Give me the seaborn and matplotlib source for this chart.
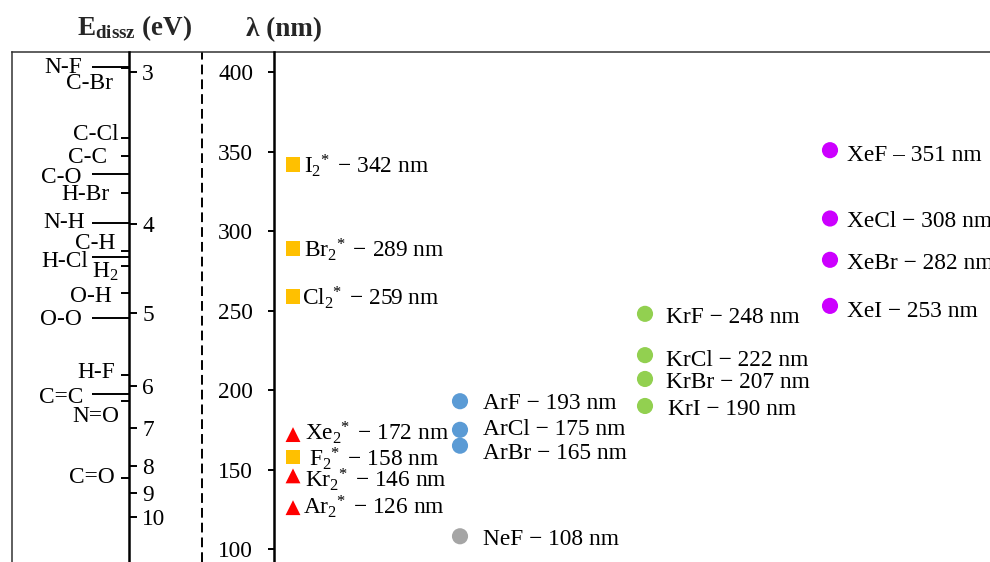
import numpy as np
import pandas as pd
import matplotlib
matplotlib.use("Agg")
import matplotlib.pyplot as plt
import seaborn as sns

# ---------------- data ----------------
species = [r"I$_2\!{}^*$", r"Br$_2\!{}^*$", r"Cl$_2\!{}^*$", r"F$_2\!{}^*$",
           r"Xe$_2\!{}^*$", r"Kr$_2\!{}^*$", r"Ar$_2\!{}^*$",
           "ArF", "ArCl", "ArBr", "NeF",
           "KrF", "KrCl", "KrBr", "KrI",
           "XeF", "XeCl", "XeBr", "XeI"]
wavelengths = [342, 289, 259, 158, 172, 146, 126,
               193, 175, 165, 108,
               248, 222, 207, 190,
               351, 308, 282, 253]
groups = ["halogen"] * 4 + ["rare gas dimer"] * 3 + ["Ar"] * 3 + ["Ne"] + ["Kr"] * 4 + ["Xe"] * 4
columns = [0] * 7 + [1] * 4 + [2] * 4 + [3] * 4
dashes = ["−"] * 15 + ["–", "−", "−", "−"]

energy_ticks = ["3", "4", "5", "6", "7", "8", "9", "10"]
energy_tick_nm = [400, 304.5, 248.5, 202.8, 176.3, 152.4, 135, 120.3]

bond_names = ["N-F", "C-Br", "C-Cl", "C-C", "C-O", "H-Br", "N-H", "C-H",
              "H-Cl", r"H$_2$", "O-H", "O-O", "H-F", "C=C", "N=O", "C=O"]
bond_nm = [403.5, 402.7, 358.8, 347.3, 336.0, 324.2, 305.3, 287.5,
           284.0, 278.3, 261.3, 245.6, 209.5, 197.5, 193.3, 144.9]

lambda_ticks = [100, 150, 200, 250, 300, 350, 400]

# ---------------- layout / style ----------------
W, H = 990, 562
PX = 0.72                      # points per pixel at dpi 100
YLIM = (91.8, 412.8)
FS = 16.8

bond_long = [True, False, False, False, True, False, True, False,
             True, False, False, True, False, True, False, False]
bond_label_right = [82, 113, 118, 107, 82, 110, 85, 115, 88, 118, 112, 82, 115, 83, 119, 115]
bond_label_dy = [1, 15, -3, 1, 3, 2, 0, -8, 5, 6, 4, 2, -2, 3, 16, 0]

col_x_px = [293, 460, 645, 830]
label_dx = [11.5, 11.5, 8.5, 16, 12, 12, 10, 23, 23, 23, 23, 21, 21, 21, 23, 17, 17, 17, 17]
label_dy = [1, 1, 1.6, 2, -1.5, 3.5, -1, 0, -2, 5.7, 1.3, 1.7, 3, 1.7, 1.3, 3, 1.3, 1.6, 3.3]

palette = {"halogen": "#FFC000", "rare gas dimer": "#FF0000", "Ar": "#5B9BD5",
           "Ne": "#A5A5A5", "Kr": "#92D050", "Xe": "#CC00FF"}
markers = {"halogen": "s", "rare gas dimer": "^", "Ar": "o", "Ne": "o", "Kr": "o", "Xe": "o"}
sizes = {"halogen": 108, "rare gas dimer": 115, "Ar": 135, "Ne": 135, "Kr": 135, "Xe": 135}

sns.set_theme(style="white")
plt.rcParams["font.family"] = ["Liberation Serif", "DejaVu Serif"]
plt.rcParams["mathtext.fontset"] = "custom"
plt.rcParams["mathtext.rm"] = "Liberation Serif"
plt.rcParams["mathtext.it"] = "Liberation Serif:italic"
plt.rcParams["mathtext.bf"] = "Liberation Serif:bold"

fig = plt.figure(figsize=(W / 100, H / 100), dpi=100)
top_frac = 1 - 52 / H

# outer frame
ax_frame = fig.add_axes([12 / W, 0, 1 - 12 / W, top_frac])
ax_frame.set_xlim(12, W)
ax_frame.set_ylim(*YLIM)
for s in ["right", "bottom"]:
    ax_frame.spines[s].set_visible(False)
for s in ["left", "top"]:
    ax_frame.spines[s].set_linewidth(1.1)
    ax_frame.spines[s].set_color("#333333")
ax_frame.set_xticks([])
ax_frame.set_yticks([])
ax_frame.axvline(202, color="black", lw=1.4, ls=(0, (5, 2.6)))

# energy axis
ax_e = fig.add_axes([12 / W, 0, (129 - 12) / W, top_frac])
ax_e.patch.set_visible(False)
ax_e.set_xlim(12, 129)
ax_e.set_ylim(*YLIM)
for s in ["left", "top", "bottom"]:
    ax_e.spines[s].set_visible(False)
ax_e.spines["right"].set_linewidth(1.8)
ax_e.spines["right"].set_color("black")
ax_e.set_xticks([])
ax_e.yaxis.tick_right()
ax_e.set_yticks(energy_tick_nm)
ax_e.set_yticklabels(energy_ticks)
ax_e.tick_params(axis="y", right=True, left=False, labelright=True, labelleft=False,
                 direction="out", length=5.5, width=1.4, pad=4, labelsize=FS,
                 colors="black")
for lbl in ax_e.get_yticklabels():
    lbl.set_va("center_baseline")
for name, nm, lng, rx, dy in zip(bond_names, bond_nm, bond_long, bond_label_right, bond_label_dy):
    x0 = 92 if lng else 121
    ax_e.hlines(nm, x0, 129, color="black", lw=1.4)
    ax_e.annotate(name, xy=(rx, nm), xytext=(0, -dy * PX), textcoords="offset points",
                  ha="right", va="center", fontsize=FS, color="black")

# wavelength axis
ax = fig.add_axes([274 / W, 0, 1 - 274 / W, top_frac])
ax.patch.set_visible(False)
df = pd.DataFrame({"species": species, "nm": wavelengths, "group": groups, "col": columns})
df["x"] = [col_x_px[c] for c in df["col"]]
sns.scatterplot(data=df, x="x", y="nm", hue="group", style="group", size="group",
                palette=palette, markers=markers, sizes=sizes, linewidth=0,
                legend=False, ax=ax, zorder=3)
ax.set_xlim(274, W)
ax.set_ylim(*YLIM)
ax.set_xlabel("")
ax.set_ylabel("")
for s in ["right", "top", "bottom"]:
    ax.spines[s].set_visible(False)
ax.spines["left"].set_linewidth(1.8)
ax.spines["left"].set_color("black")
ax.set_xticks([])
ax.set_yticks(lambda_ticks)
ax.tick_params(axis="y", left=True, direction="out", length=4.3, width=1.4,
               pad=10.8, labelsize=FS, colors="black")

for sp, nm, x, dsh, dx, dy in zip(df["species"], df["nm"], df["x"], dashes, label_dx, label_dy):
    ax.annotate(f"{sp} {dsh} {nm} nm", xy=(x, nm), xytext=(dx * PX, -(dy + 7.6) * PX),
                textcoords="offset points", ha="left", va="baseline", fontsize=FS,
                color="black", annotation_clip=False)

# axis titles
fig.text(77 / W, 1 - 35 / H, r"$\mathbf{E_{dissz}}$ (eV)", fontsize=19.5, fontweight="bold",
         ha="left", va="baseline")
fig.text(246 / W, 1 - 36 / H, "λ (nm)", fontsize=19.5, fontweight="bold",
         ha="left", va="baseline")

fig.savefig("out.png", dpi=100)
